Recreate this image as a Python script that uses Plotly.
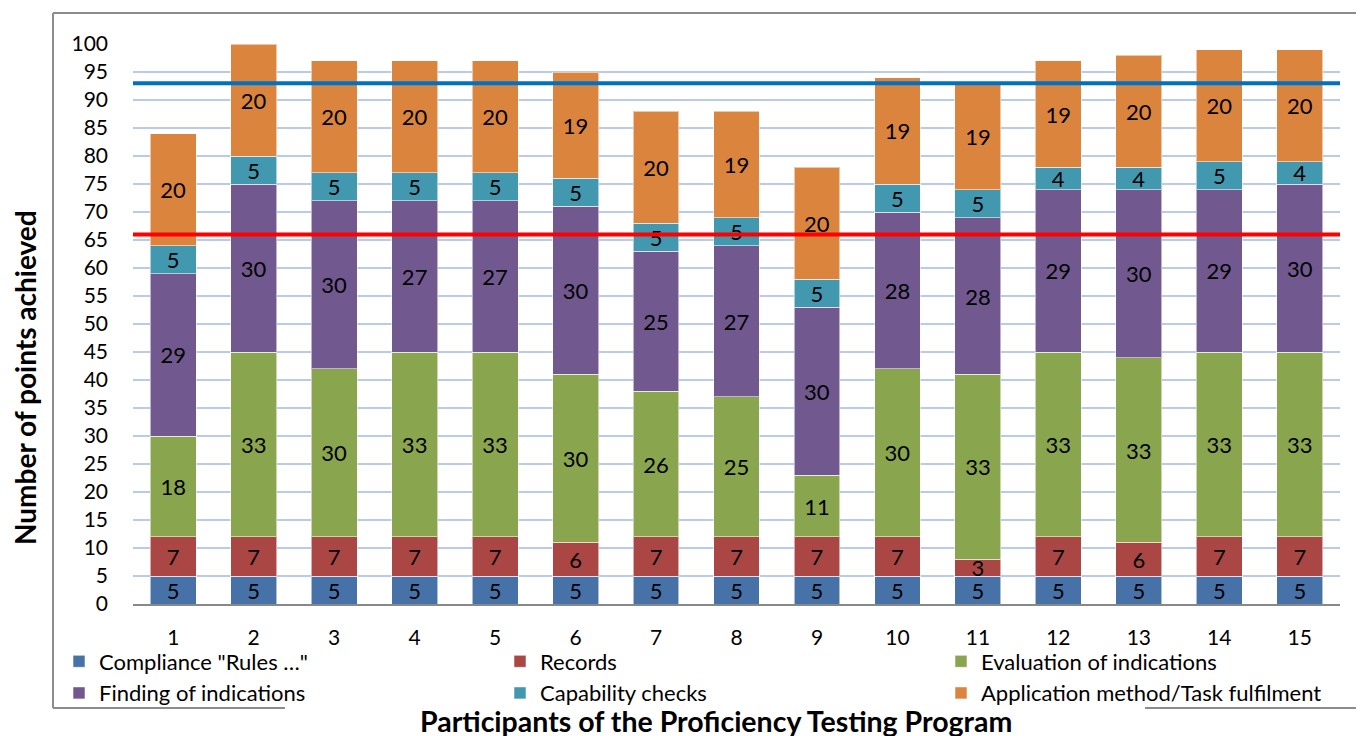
import plotly.graph_objects as go

participants = [str(i) for i in range(1, 16)]
compliance = [5, 5, 5, 5, 5, 5, 5, 5, 5, 5, 5, 5, 5, 5, 5]
records = [7, 7, 7, 7, 7, 6, 7, 7, 7, 7, 3, 7, 6, 7, 7]
evaluation = [18, 33, 30, 33, 33, 30, 26, 25, 11, 30, 33, 33, 33, 33, 33]
finding = [29, 30, 30, 27, 27, 30, 25, 27, 30, 28, 28, 29, 30, 29, 30]
capability = [5, 5, 5, 5, 5, 5, 5, 5, 5, 5, 5, 4, 4, 5, 4]
application = [20, 20, 20, 20, 20, 19, 20, 19, 20, 19, 19, 19, 20, 20, 20]

series_names = ['Compliance "Rules …"', 'Records', 'Evaluation of indications',
                'Finding of indications', 'Capability checks', 'Application method/Task fulfilment']
series_values = [compliance, records, evaluation, finding, capability, application]
colors = ['#4772A8', '#AA4643', '#89A54E', '#71588F', '#4198AF', '#DB843D']

upper_limit = 93
lower_limit = 66

FONT = 'Lato, Carlito, Calibri, sans-serif'
W, H = 1364, 736
OFF = 8  # page body margin
L, R, T, B = 133 - OFF, 24 + OFF, 44 - OFF, 132 + OFF
PW, PH = W - L - R, H - T - B


def px(x):  # screen x -> paper
    return (x - OFF - L) / PW


def py(y):  # screen y -> paper
    return (T + PH - (y - OFF)) / PH


fig = go.Figure()
for name, vals, col in zip(series_names, series_values, colors):
    fig.add_trace(go.Bar(
        x=participants, y=vals, name=name,
        marker=dict(color=col, line=dict(color='rgba(255,255,255,0.55)', width=1)),
        text=vals, textposition='inside', insidetextanchor='middle', textangle=0,
        textfont=dict(color='black', size=22, family=FONT),
        hoverinfo='skip',
    ))

fig.add_hline(y=upper_limit, line=dict(color='#0070C0', width=4), layer='above')
fig.add_hline(y=lower_limit, line=dict(color='#FF0000', width=4), layer='above')

fig.update_layout(
    barmode='stack', bargap=0.43,
    width=W, height=H,
    margin=dict(l=L, r=R, t=T, b=B, autoexpand=False),
    paper_bgcolor='white', plot_bgcolor='white',
    font=dict(family=FONT, size=21, color='black'),
    uniformtext=dict(minsize=22, mode='show'),
    showlegend=True,
    legend=dict(orientation='h', x=px(59), xanchor='left', y=py(640.5), yanchor='top',
                entrywidth=396, entrywidthmode='pixels', traceorder='normal',
                font=dict(size=22, family=FONT), itemwidth=30, tracegroupgap=0,
                bgcolor='rgba(0,0,0,0)'),
    xaxis=dict(type='category', showgrid=False, ticks='', showline=True, linecolor='#888888', linewidth=1.5,
               tickfont=dict(size=21), ticklabelstandoff=14),
    yaxis=dict(range=[0, 100], dtick=5, showgrid=True, gridcolor='#B9CBEA', gridwidth=1.5,
               zeroline=False, showline=False, ticks='', tickfont=dict(size=21), ticklabelstandoff=24),
)

fig.add_annotation(text='<b>Number of points achieved</b>', xref='paper', yref='paper',
                   x=px(25), y=py(378), textangle=-90, showarrow=False,
                   font=dict(size=28, family=FONT), xanchor='center', yanchor='middle')
fig.add_annotation(text='<b>Participants of the Proficiency Testing Program</b>', xref='paper', yref='paper',
                   x=px(716), y=py(721), showarrow=False,
                   font=dict(size=28.5, family=FONT), xanchor='center', yanchor='middle')

# chart frame (partial, as in the cropped reference)
frame = dict(type='line', xref='paper', yref='paper', line=dict(color='#8C8C8C', width=2), layer='below')
fig.add_shape(x0=px(53), x1=px(53), y0=py(13), y1=py(708), **frame)
fig.add_shape(x0=px(53), x1=px(1364), y0=py(13), y1=py(13), **frame)
fig.add_shape(x0=px(53), x1=px(285), y0=py(708), y1=py(708), **frame)
fig.add_shape(x0=px(1145), x1=px(1364), y0=py(708), y1=py(708), **frame)

fig.write_html('out.html')
